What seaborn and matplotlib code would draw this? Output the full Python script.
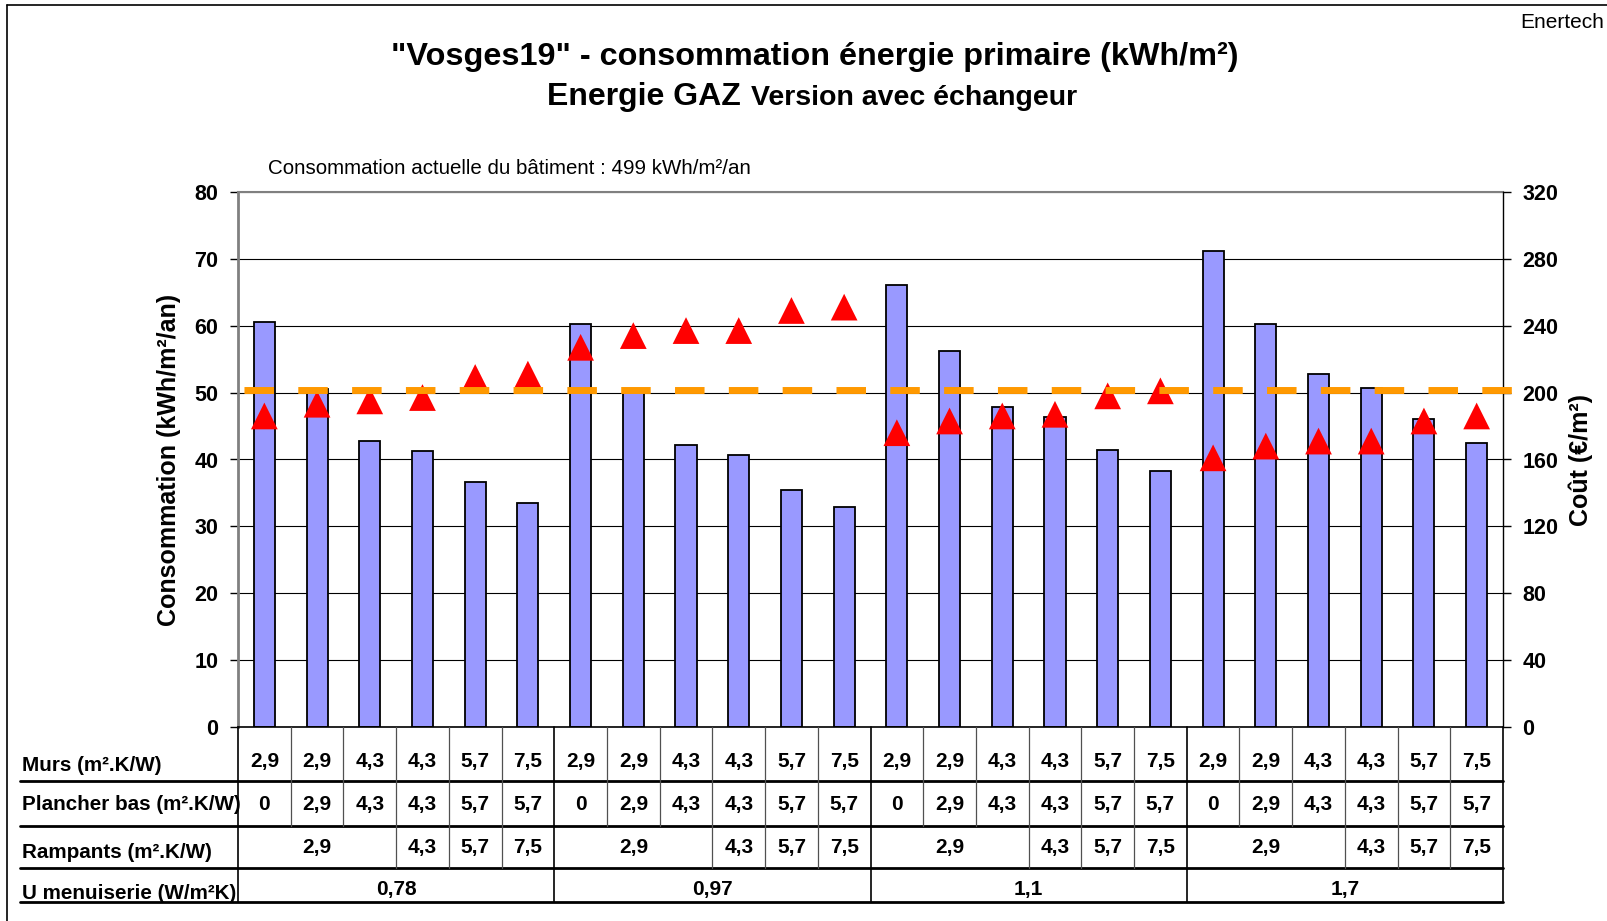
import numpy as np
import matplotlib
matplotlib.use("Agg")
import matplotlib.pyplot as plt
import matplotlib.transforms as mtransforms
from matplotlib.lines import Line2D
import seaborn as sns

# consommation (kWh/m2/an) - axe gauche
conso = [60.5, 50.5, 42.8, 41.2, 36.6, 33.5,
         60.2, 50.3, 42.2, 40.7, 35.5, 32.9,
         66.0, 56.2, 47.8, 46.4, 41.4, 38.3,
         71.2, 60.3, 52.7, 50.7, 46.0, 42.4]
# cout (euros/m2) - axe droit
cout = [186, 193, 195, 197, 209, 211,
        227, 234, 237, 237, 249, 251,
        176, 183, 186, 187, 198, 201,
        161, 168, 171, 171, 183, 186]
ref_conso = 50.4

murs = ["2,9", "2,9", "4,3", "4,3", "5,7", "7,5",
        "2,9", "2,9", "4,3", "4,3", "5,7", "7,5",
        "2,9", "2,9", "4,3", "4,3", "5,7", "7,5",
        "2,9", "2,9", "4,3", "4,3", "5,7", "7,5"]
plancher = ["0", "2,9", "4,3", "4,3", "5,7", "5,7",
            "0", "2,9", "4,3", "4,3", "5,7", "5,7",
            "0", "2,9", "4,3", "4,3", "5,7", "5,7",
            "0", "2,9", "4,3", "4,3", "5,7", "5,7"]
rampants = ["2,9", "4,3", "5,7", "7,5"]
rampants_span = [3, 1, 1, 1]
u_menuiserie = ["0,78", "0,97", "1,1", "1,7"]
row_labels = ["Murs (m².K/W)", "Plancher bas (m².K/W)",
              "Rampants (m².K/W)", "U menuiserie (W/m²K)"]

sns.set_style("white")
plt.rcParams["font.family"] = ["Liberation Sans", "DejaVu Sans"]
plt.rcParams["text.color"] = "black"
plt.rcParams["axes.labelcolor"] = "black"
plt.rcParams["xtick.color"] = "black"
plt.rcParams["ytick.color"] = "black"

W, H = 1607, 921
fig = plt.figure(figsize=(W / 100, H / 100), dpi=100)
ax_left, ax_right, ax_top, ax_bot = 238, 1503, 191.6, 727.4
ax = fig.add_axes([ax_left / W, 1 - ax_bot / H, (ax_right - ax_left) / W, (ax_bot - ax_top) / H])

n = len(conso)
x = np.arange(n)
sns.barplot(x=x, y=conso, ax=ax, color="#9999FF", saturation=1, width=0.4,
            edgecolor="black", linewidth=1.3, zorder=2)
ax.set_xlim(-0.5, n - 0.5)
ax.set_ylim(0, 80)
ax.set_axisbelow(True)
ax.yaxis.grid(True, color="black", lw=0.8)
ax.set_xticks([])
ax.set_xlabel("")
ax.set_yticks(range(0, 81, 10))
ax.set_yticklabels([str(v) for v in range(0, 81, 10)], fontweight="bold", fontsize=15.5)
ax.tick_params(axis="y", left=True, length=6, width=1, pad=8, color="black")
ax.set_ylabel("Consommation (kWh/m²/an)", fontweight="bold", fontsize=18)
ax.yaxis.set_label_coords(-0.045, 0.5)
ax.spines["left"].set_color("#808080")
ax.spines["left"].set_linewidth(2)
ax.spines["top"].set_color("#808080")
ax.spines["top"].set_linewidth(1.5)
ax.spines["bottom"].set_color("black")
ax.spines["bottom"].set_linewidth(1.2)
ax.spines["right"].set_visible(False)

ax2 = ax.twinx()
sns.scatterplot(x=x, y=cout, ax=ax2, marker="^", s=370, color="#FF0000",
                edgecolor="none", zorder=3, legend=False)
ax2.set_ylim(0, 320)
ax2.set_yticks(range(0, 321, 40))
ax2.set_yticklabels([str(v) for v in range(0, 321, 40)], fontweight="bold", fontsize=15.5)
ax2.tick_params(axis="y", right=True, length=6, width=1, pad=8, color="black")
ax2.set_ylabel("Coût (€/m²)", fontweight="bold", fontsize=18)
ax2.yaxis.set_label_coords(1.052, 0.5)
for s in ["top", "bottom", "left"]:
    ax2.spines[s].set_visible(False)
ax2.spines["right"].set_color("black")
ax2.spines["right"].set_linewidth(1)

ax3 = ax.twinx()
ax3.set_ylim(0, 80)
ax3.set_axis_off()
ax3.axhline(ref_conso, xmin=0, xmax=1.0069, clip_on=False, color="#FF9900", lw=5,
            linestyle=(6.89, (4.25, 3.5)), zorder=4)
ax.set_xlim(-0.5, n - 0.5)

# titles
fig.text(815 / W, 1 - 65 / H, '"Vosges19" - consommation énergie primaire (kWh/m²)',
         ha="center", va="baseline", fontsize=23.3, fontweight="bold")
fig.text(741 / W, 1 - 105 / H, "Energie GAZ", ha="right", va="baseline",
         fontsize=23, fontweight="bold")
fig.text(751 / W, 1 - 105 / H, "Version avec échangeur", ha="left", va="baseline",
         fontsize=20.5, fontweight="bold")
fig.text(268 / W, 1 - 174 / H, "Consommation actuelle du bâtiment : 499 kWh/m²/an",
         ha="left", va="baseline", fontsize=14.8)
fig.text(1604 / W, 1 - 28 / H, "Enertech", ha="right", va="baseline", fontsize=15)

# outer frame (left and top)
fig.add_artist(Line2D([7 / W, 7 / W], [0, 1 - 5 / H], color="black", lw=1.2))
fig.add_artist(Line2D([7 / W, 1], [1 - 5 / H, 1 - 5 / H], color="black", lw=1.2))

# table under the chart
trans = mtransforms.blended_transform_factory(ax.transData, fig.transFigure)
rows_px = [727.4, 780.7, 825.8, 867.8, 901.6]
fy = lambda p: 1 - p / H

for p in rows_px[1:]:
    fig.add_artist(Line2D([20 / W, ax_right / W], [fy(p), fy(p)], color="black", lw=2))

group = 6
for b in np.arange(-0.5, n, 1):
    is_edge = (b + 0.5) % group == 0
    fig.add_artist(Line2D([b, b], [fy(rows_px[0]), fy(rows_px[2])], transform=trans,
                          color="black" if is_edge else "#505050", lw=1.2 if is_edge else 0.9))

for g in range(len(u_menuiserie)):
    start = g * group - 0.5
    pos = start
    for lbl, sp in zip(rampants, rampants_span):
        fig.text(pos + sp / 2, fy(847), lbl, transform=trans, ha="center", va="center",
                 fontsize=15, fontweight="bold")
        pos += sp
        if pos < start + group:
            fig.add_artist(Line2D([pos, pos], [fy(rows_px[2]), fy(rows_px[3])], transform=trans,
                                  color="#505050", lw=0.9))
    fig.text(start + group / 2, fy(889), u_menuiserie[g], transform=trans, ha="center",
             va="center", fontsize=15, fontweight="bold")

for b in np.arange(-0.5, n + 1, group):
    fig.add_artist(Line2D([b, b], [fy(rows_px[2]), fy(rows_px[4])], transform=trans,
                          color="black", lw=1.2))

for i in range(n):
    fig.text(i, fy(761), murs[i], transform=trans, ha="center", va="center",
             fontsize=15, fontweight="bold")
    fig.text(i, fy(804), plancher[i], transform=trans, ha="center", va="center",
             fontsize=15, fontweight="bold")

for lbl, p in zip(row_labels, [765, 804, 852, 893]):
    fig.text(22 / W, fy(p), lbl, ha="left", va="center", fontsize=14.9, fontweight="bold")

fig.savefig("out.png", dpi=100)
